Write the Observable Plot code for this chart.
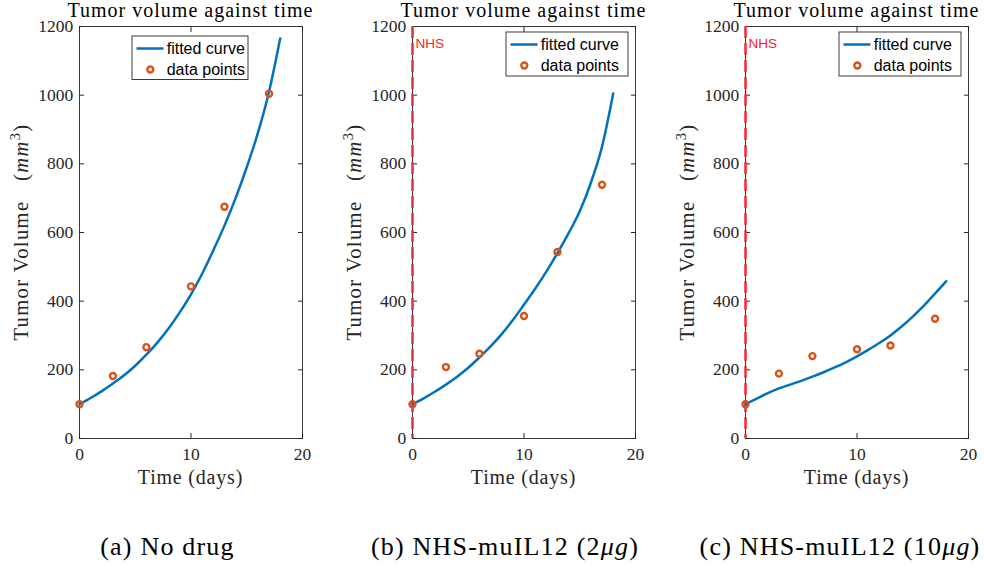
<!DOCTYPE html>
<html>
<head>
<meta charset="utf-8">
<script src="https://cdn.jsdelivr.net/npm/d3@7"></script>
<script src="https://cdn.jsdelivr.net/npm/@observablehq/plot@0.6"></script>
<style>
  body { margin: 0; background: #fff; }
  #chart { position: relative; width: 984px; height: 571px; overflow: hidden; background: #fff; }
  #chart svg { position: absolute; top: 0; }
</style>
</head>
<body>
<div id="chart"></div>
<script>
// ---------------- data ----------------
const panelTitle = "Tumor volume against time";
const xLabel = "Time (days)";
const yLabelText = "Tumor Volume";
const captions = ["(a) No drug", "(b) NHS-muIL12 (2μg)", "(c) NHS-muIL12 (10μg)"];
const legendLabels = ["fitted curve", "data points"];
const nhsLabel = "NHS";
const nhsDay = 0;

const xTicks = [0, 10, 20];
const yTicks = [0, 200, 400, 600, 800, 1000, 1200];

// measured data points
const dataDays = [0, 3, 6, 10, 13, 17];
const dataNoDrug = [100, 182, 266, 443, 675, 1004];
const data2ug = [100, 208, 247, 357, 543, 739];
const data10ug = [100, 189, 240, 260, 271, 349];

// fitted curves
const curveDays = [0, 1, 2, 3, 4, 5, 6, 7, 8, 9, 10, 11, 12, 13, 14, 15, 16, 17, 18];
const curveNoDrug = [100, 118, 138, 160, 184, 212, 244, 280, 321, 368, 420, 480, 548, 620, 700, 790, 890, 1010, 1165];
const curve2ug = [100, 117, 136, 157, 180, 206, 236, 268, 304, 345, 390, 436, 486, 540, 598, 662, 745, 850, 1005];
const curve10ug = [100, 116, 132, 146, 157, 168, 180, 193, 207, 222, 239, 258, 278, 300, 326, 355, 387, 422, 458];

// ---------------- drawing ----------------
const panels = [
  {pts: dataNoDrug, curve: curveNoDrug, nhs: false, left: 0,   capX: 167.5, leg: {x: 132, y: 36, w: 116, h: 43.5}},
  {pts: data2ug,    curve: curve2ug,    nhs: true,  left: 333, capX: 172,   leg: {x: 173, y: 32, w: 122, h: 44}},
  {pts: data10ug,   curve: curve10ug,   nhs: true,  left: 666, capX: 174,   leg: {x: 173, y: 32, w: 122, h: 44}}
];

const W = 318, H = 571, ML = 79, MR = 16, MT = 26, MB = 133;
const plotCX = ML + (W - ML - MR) / 2;
const plotCY = MT + (H - MT - MB) / 2;
const axisColor = "#262626";
const blue = "#0072BD", orange = "#D95319";
const dotR = 3, dotW = 2.4;

const chart = document.getElementById("chart");

panels.forEach((p, i) => {
  const pts = dataDays.map((d, j) => ({day: d, v: p.pts[j]}));
  const crv = curveDays.map((d, j) => ({day: d, v: p.curve[j]}));
  const marks = [
    Plot.frame({stroke: axisColor, strokeWidth: 0.9}),
    Plot.axisX({ticks: xTicks, tickSize: -5, tickPadding: 14.5, label: null, tickFormat: d3.format("d"), stroke: axisColor}),
    Plot.axisX({anchor: "top", ticks: xTicks, tickSize: -5, tickFormat: () => "", label: null, stroke: axisColor}),
    Plot.axisY({ticks: yTicks, tickSize: -5, tickPadding: 11.3, label: null, tickFormat: d3.format("d"), stroke: axisColor}),
    Plot.axisY({anchor: "right", ticks: yTicks, tickSize: -5, tickFormat: () => "", label: null, stroke: axisColor})
  ];
  if (p.nhs) {
    marks.push(Plot.ruleX([nhsDay], {x: d => d, stroke: "#ff3344", strokeOpacity: 0.82, strokeWidth: 3, strokeDasharray: "12,5"}));
    marks.push(Plot.text([nhsDay], {x: d => d, frameAnchor: "top", text: () => nhsLabel, dx: 3, dy: 17,
      textAnchor: "start", lineAnchor: "middle", fill: "#ff2020", fontFamily: "Liberation Sans", fontSize: 13.5}));
  }
  marks.push(Plot.line(crv, {x: "day", y: "v", stroke: blue, strokeWidth: 2.5, curve: "monotone-x"}));
  marks.push(Plot.dot(pts, {x: "day", y: "v", r: dotR, stroke: orange, strokeWidth: dotW, fill: "none"}));

  const plot = Plot.plot({
    width: W, height: H,
    marginLeft: ML, marginRight: MR, marginTop: MT, marginBottom: MB,
    x: {domain: [0, 20]},
    y: {domain: [0, 1200]},
    style: {fontFamily: "Liberation Serif", fontSize: "17.5px", color: axisColor, background: "transparent", overflow: "visible"},
    marks
  });
  plot.style.left = p.left + "px";
  chart.appendChild(plot);

  const svg = d3.select(plot);
  const serif = "Liberation Serif";

  // title
  svg.append("text").attr("x", plotCX).attr("y", 17).attr("text-anchor", "middle")
    .attr("font-family", serif).attr("font-size", 20).attr("letter-spacing", "1px").attr("fill", "#000")
    .text(panelTitle);

  // x label
  svg.append("text").attr("x", plotCX).attr("y", 484).attr("text-anchor", "middle")
    .attr("font-family", serif).attr("font-size", 20).attr("letter-spacing", "0.8px").attr("fill", axisColor)
    .text(xLabel);

  // y label with italic mm and superscript 3
  const yl = svg.append("text").attr("transform", `translate(27.5,${plotCY}) rotate(-90)`).attr("text-anchor", "middle")
    .attr("font-family", serif).attr("font-size", 20.5).attr("letter-spacing", "1.4px").attr("fill", axisColor);
  yl.append("tspan").text(yLabelText + "\u00a0\u00a0\u00a0(");
  yl.append("tspan").attr("font-style", "italic").text("mm");
  yl.append("tspan").attr("dy", -8).attr("font-size", 14.5).text("3");
  yl.append("tspan").attr("dy", 8).text(")");

  // caption
  const cap = svg.append("text").attr("x", p.capX).attr("y", 555).attr("text-anchor", "middle")
    .attr("font-family", serif).attr("font-size", 26).attr("letter-spacing", "1.2px").attr("fill", "#000");
  const parts = captions[i].split("μg");
  cap.append("tspan").text(parts[0]);
  if (parts.length > 1) {
    cap.append("tspan").attr("font-style", "italic").text("μg");
    cap.append("tspan").text(parts[1]);
  }

  // legend
  const L = p.leg;
  const g = svg.append("g");
  g.append("rect").attr("x", L.x).attr("y", L.y).attr("width", L.w).attr("height", L.h)
    .attr("fill", "#fff").attr("stroke", axisColor).attr("stroke-width", 0.9);
  const r1 = L.y + 12.5, r2 = L.y + 33.5;
  g.append("line").attr("x1", L.x + 4.5).attr("x2", L.x + 31.5).attr("y1", r1).attr("y2", r1)
    .attr("stroke", blue).attr("stroke-width", 2.5);
  g.append("circle").attr("cx", L.x + 18.3).attr("cy", r2).attr("r", dotR)
    .attr("fill", "none").attr("stroke", orange).attr("stroke-width", dotW);
  [r1, r2].forEach((yy, k) => {
    g.append("text").attr("x", L.x + 34.7).attr("y", yy).attr("dy", "0.35em").attr("text-anchor", "start")
      .attr("font-family", "Liberation Sans").attr("font-size", 16).attr("fill", "#000")
      .text(legendLabels[k]);
  });
});
</script>
</body>
</html>
